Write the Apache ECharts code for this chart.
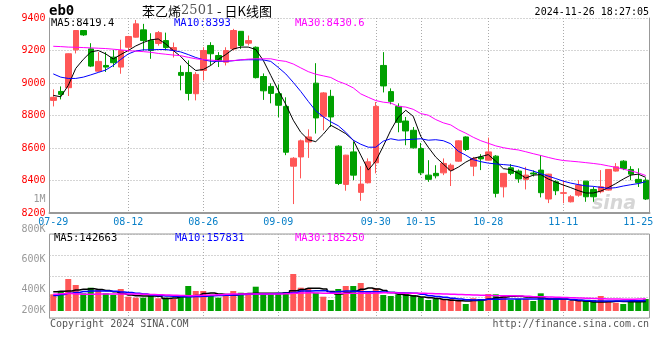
<!DOCTYPE html>
<html><head><meta charset="utf-8">
<script src="https://cdn.jsdelivr.net/npm/echarts@6/dist/echarts.min.js"></script>
<style>html,body{margin:0;padding:0;background:#fff}#c{width:660px;height:360px}</style>
</head><body><div id="c"></div>
<script>
const dates = ['07-29','07-30','07-31','08-01','08-02','08-05','08-06','08-07','08-08','08-09',
'08-12','08-13','08-14','08-15','08-16','08-19','08-20','08-21','08-22','08-23',
'08-26','08-27','08-28','08-29','08-30','09-02','09-03','09-04','09-05','09-06',
'09-09','09-10','09-11','09-12','09-13','09-18','09-19','09-20','09-23','09-24',
'09-25','09-26','09-27','09-30','10-08','10-09','10-10','10-11','10-14','10-15',
'10-16','10-17','10-18','10-21','10-22','10-23','10-24','10-25','10-28','10-29',
'10-30','10-31','11-01','11-04','11-05','11-06','11-07','11-08','11-11','11-12',
'11-13','11-14','11-15','11-18','11-19','11-20','11-21','11-22','11-25','11-26'];
const tickDates = ['07-29','08-12','08-26','09-09','09-30','10-15','10-28','11-11','11-25'];
const splitDates = ['08-12','08-26','09-09','09-30','10-15','10-28','11-11'];
const priceTicks = {min: 8200, max: 9400, step: 200};
const volTickValues = [200000, 400000, 600000, 800000, 1000000];
const volTickLabels = ['200K', '400K', '600K', '800K', '1M'];

const opens = [8893,8948,8971,9204,9323,9210,9073,9108,9159,9098,9220,9282,9327,9261,9243,9261,9200,9065,9065,8934,
9077,9231,9169,9128,9210,9318,9245,9220,9040,8979,8934,8856,8488,8545,8637,8999,8795,8918,8611,8376,
8576,8327,8386,8509,9108,8947,8856,8766,8709,8597,8433,8444,8447,8464,8519,8668,8488,8545,8525,8550,
8361,8478,8458,8407,8446,8464,8286,8392,8321,8269,8310,8396,8345,8331,8341,8458,8519,8468,8407,8402];
const closes = [8912,8930,9180,9323,9296,9104,9133,9098,9125,9200,9286,9364,9261,9200,9310,9218,9218,9047,8936,9053,
9200,9180,9139,9200,9323,9231,9261,9033,8952,8936,8863,8574,8537,8644,8668,8785,8939,8791,8382,8556,
8433,8378,8515,8856,8982,8887,8758,8705,8601,8447,8407,8429,8505,8494,8644,8591,8536,8533,8576,8321,
8444,8444,8410,8433,8440,8325,8439,8337,8325,8300,8372,8300,8300,8361,8468,8484,8474,8439,8386,8286];
const lows = [8856,8899,8920,9182,9290,9098,9068,9068,9098,9057,9190,9280,9200,9149,9230,9200,9157,8955,8893,8893,
9016,9108,9098,9108,9200,9210,9231,9028,8896,8875,8790,8556,8255,8413,8539,8689,8709,8729,8372,8337,
8402,8275,8382,8444,8942,8869,8697,8617,8597,8433,8392,8413,8433,8366,8515,8582,8427,8464,8522,8296,
8296,8433,8386,8345,8425,8296,8261,8310,8260,8265,8300,8269,8269,8321,8338,8455,8464,8402,8360,8280];
const highs = [8961,8979,9182,9326,9326,9245,9190,9190,9204,9266,9290,9388,9364,9306,9320,9310,9249,9108,9139,9067,
9220,9251,9190,9220,9333,9320,9292,9225,9059,8998,8990,8912,8544,8652,8715,9122,8944,8958,8617,8558,
8637,8488,8536,8883,9190,8967,8875,8791,8729,8631,8525,8494,8536,8505,8648,8672,8545,8562,8664,8556,
8446,8501,8468,8484,8462,8556,8441,8402,8402,8310,8402,8398,8361,8464,8470,8507,8525,8488,8475,8415];
const ma5 = [8924,8915,8985,9090,9145,9191,9200,9179,9148,9175,9200,9228,9249,9266,9271,9240,9200,9163,9114,9077,
9083,9108,9145,9175,9209,9221,9221,9206,9139,9047,8955,8869,8771,8697,8651,8639,8685,8740,8715,8688,
8648,8556,8464,8519,8611,8709,8789,8832,8795,8672,8605,8544,8501,8458,8482,8513,8537,8547,8559,8519,
8473,8467,8445,8415,8433,8436,8409,8390,8372,8356,8338,8323,8323,8335,8356,8381,8409,8433,8439,8419.4];
const ma10 = [9056,9036,9028,9028,9036,9050,9065,9080,9108,9145,9179,9197,9204,9204,9206,9206,9200,9191,9175,9157,
9143,9134,9133,9133,9137,9142,9143,9143,9142,9133,9096,9056,9004,8948,8887,8829,8792,8761,8737,8697,
8648,8623,8605,8605,8642,8657,8648,8651,8654,8657,8648,8651,8645,8626,8580,8556,8528,8516,8507,8502,
8498,8494,8485,8470,8458,8442,8427,8412,8396,8384,8375,8367,8364,8358,8352,8356,8366,8374,8381,8393];
const ma30 = [9226,9224,9221,9220,9218,9216,9214,9212,9208,9204,9199,9196,9193,9189,9182,9177,9172,9168,9158,9149,
9144,9141,9137,9135,9138,9142,9147,9149,9149,9149,9139,9133,9117,9093,9070,9054,9044,9034,9010,8993,
8970,8933,8912,8892,8882,8877,8856,8852,8838,8812,8802,8775,8755,8742,8713,8691,8666,8645,8629,8613,
8602,8594,8588,8577,8565,8554,8542,8531,8523,8519,8515,8510,8505,8499,8490,8481,8470,8459,8447,8430.6];
const volumes = [252000,302000,483000,393000,267000,352000,317000,267000,242000,332000,216000,201000,201000,231000,192000,201000,181000,216000,378000,302000,
302000,242000,201000,242000,302000,276000,267000,367000,252000,252000,267000,282000,559000,352000,343000,276000,216000,166000,332000,378000,
378000,423000,302000,343000,242000,227000,252000,257000,242000,207000,166000,181000,181000,181000,156000,106000,192000,181000,257000,252000,
231000,166000,181000,181000,151000,267000,181000,181000,181000,151000,151000,166000,166000,227000,151000,125000,106000,151000,156000,181000];
const volMa5 = [291000,297000,302000,317000,328000,337000,325000,310000,291000,264000,242000,231000,227000,227000,222000,189000,196000,216000,222000,234000,
264000,272000,257000,249000,242000,257000,264000,267000,267000,267000,267000,276000,307000,325000,343000,343000,332000,294000,257000,279000,
302000,328000,347000,332000,310000,279000,252000,237000,227000,211000,201000,189000,174000,162000,154000,151000,159000,166000,181000,201000,
211000,222000,222000,211000,207000,196000,181000,181000,181000,166000,156000,146000,136000,136000,140000,146000,143000,138000,140000,142663];
const volMa10 = [234000,249000,267000,279000,294000,302000,302000,302000,297000,287000,279000,267000,257000,242000,234000,227000,222000,219000,216000,219000,
223000,230000,234000,237000,242000,248000,254000,257000,257000,260000,264000,267000,279000,302000,302000,305000,307000,282000,294000,302000,
297000,291000,291000,291000,287000,279000,276000,272000,267000,252000,231000,219000,207000,193000,181000,171000,166000,169000,177000,178000,
181000,181000,181000,181000,181000,181000,181000,181000,181000,174000,166000,159000,151000,151000,151000,152000,152000,153000,155000,157831];
const volMa30 = [252000,261000,264000,257000,252000,254000,257000,257000,257000,257000,257000,257000,254000,249000,245000,242000,237000,233000,231000,234000,
237000,242000,246000,252000,257000,257000,257000,257000,257000,257000,257000,260000,267000,273000,275000,272000,269000,267000,267000,267000,
267000,267000,269000,272000,275000,275000,272000,269000,267000,267000,264000,260000,257000,254000,249000,245000,242000,237000,234000,231000,
231000,230000,227000,222000,217000,214000,211000,208000,205000,201000,196000,192000,189000,186000,181000,181000,178000,178000,181000,185250];

const MONO = '"DejaVu Sans Mono","Liberation Mono",monospace';
const UP = '#FF5757', DOWN = '#00A000';
const GRIDC = '#AAAAAA', FRAME = '#999999';
const L = 49.5, W = 600;

const candleData = opens.map((o, i) => [o, closes[i], lows[i], highs[i]]);
const volData = volumes.map((v, i) => ({value: v, itemStyle: {color: closes[i] >= opens[i] ? UP : DOWN}}));
const halfSlots = [];
for (let j = 0; j <= dates.length * 2; j++) halfSlots.push(j % 2 ? dates[(j - 1) / 2] : '~' + j);
const last = a => a[a.length - 1];
const dotted = {color: GRIDC, type: [1, 2], width: 1};

const chart = echarts.init(document.getElementById('c'), null, {renderer: 'canvas'});
chart.setOption({
  animation: false,
  backgroundColor: '#fff',
  grid: [
    {left: L, width: W, top: 18, height: 195},
    {left: L, width: W, top: 234, height: 84, show: true, borderColor: FRAME, borderWidth: 1, backgroundColor: 'transparent'},
    {left: L, width: W, top: 199, height: 121}
  ],
  xAxis: [
    {gridIndex: 0, type: 'category', data: dates, boundaryGap: true, position: 'bottom',
     axisLine: {show: true, lineStyle: {color: FRAME, width: 2}}, axisTick: {show: false}, axisLabel: {show: false}, splitLine: {show: false}},
    {gridIndex: 0, type: 'category', data: halfSlots, boundaryGap: false, position: 'bottom',
     axisLine: {show: false}, axisTick: {show: false},
     axisLabel: {show: true, interval: (i, v) => tickDates.includes(v), color: '#0A80C8', fontFamily: MONO, fontSize: 10, margin: 4},
     splitLine: {show: true, interval: (i, v) => splitDates.includes(v), lineStyle: dotted}},
    {gridIndex: 1, type: 'category', data: dates, boundaryGap: true, position: 'bottom',
     axisLine: {show: false}, axisTick: {show: false}, axisLabel: {show: false}, splitLine: {show: false}},
    {gridIndex: 1, type: 'category', data: halfSlots, boundaryGap: false, position: 'bottom',
     axisLine: {show: false}, axisTick: {show: false}, axisLabel: {show: false},
     splitLine: {show: true, interval: (i, v) => splitDates.includes(v), lineStyle: dotted}},
    {gridIndex: 2, type: 'category', data: dates, show: false}
  ],
  yAxis: [
    {gridIndex: 0, type: 'value', min: priceTicks.min, max: priceTicks.max, interval: priceTicks.step, position: 'left',
     axisLine: {show: true, lineStyle: {color: FRAME, width: 1}}, axisTick: {show: false},
     axisLabel: {color: '#FF0000', fontFamily: MONO, fontSize: 10, margin: 4, formatter: v => String(v)},
     splitLine: {show: true, lineStyle: dotted}},
    {gridIndex: 0, type: 'value', position: 'right', axisLine: {show: true, onZero: false, lineStyle: {color: FRAME, width: 1}},
     axisTick: {show: false}, axisLabel: {show: false}, splitLine: {show: false}},
    {gridIndex: 1, type: 'value', min: -105700, max: 1163000, show: false},
    {gridIndex: 1, type: 'value', min: 0, max: 4, interval: 1, position: 'right',
     axisLine: {show: false}, axisTick: {show: false}, axisLabel: {show: false}, splitLine: {show: true, lineStyle: dotted}},
    {gridIndex: 2, type: 'value', min: volTickValues[0], max: last(volTickValues), interval: volTickValues[1] - volTickValues[0], position: 'left',
     axisLine: {show: false}, axisTick: {show: false}, splitLine: {show: false},
     axisLabel: {color: '#999', fontFamily: MONO, fontSize: 10, margin: 4,
       formatter: v => {
         const k = volTickValues.indexOf(v);
         const t = k >= 0 ? volTickLabels[k] : '';
         return k === 0 ? '{low|' + t + '}' : t;
       },
       rich: {low: {padding: [0, 0, 20, 0], color: '#999', fontFamily: MONO, fontSize: 10}}}}
  ],
  series: [
    {type: 'candlestick', xAxisIndex: 0, yAxisIndex: 0, data: candleData, barWidth: 6,
     itemStyle: {color: UP, color0: DOWN, borderColor: UP, borderColor0: DOWN, borderWidth: 1}},
    {type: 'line', xAxisIndex: 0, yAxisIndex: 0, data: ma5, symbol: 'none', lineStyle: {color: '#000', width: 1}},
    {type: 'line', xAxisIndex: 0, yAxisIndex: 0, data: ma10, symbol: 'none', lineStyle: {color: '#0000FF', width: 1}},
    {type: 'line', xAxisIndex: 0, yAxisIndex: 0, data: ma30, symbol: 'none', lineStyle: {color: '#FF00FF', width: 1}},
    {type: 'bar', xAxisIndex: 2, yAxisIndex: 2, data: volData, barWidth: 6},
    {type: 'line', xAxisIndex: 2, yAxisIndex: 2, data: volMa5, step: 'middle', symbol: 'none', lineStyle: {color: '#000', width: 1.5}},
    {type: 'line', xAxisIndex: 2, yAxisIndex: 2, data: volMa10, step: 'middle', symbol: 'none', lineStyle: {color: '#0000FF', width: 1.5}},
    {type: 'line', xAxisIndex: 2, yAxisIndex: 2, data: volMa30, step: 'middle', symbol: 'none', lineStyle: {color: '#FF00FF', width: 1.5}}
  ],
  graphic: [
    {type: 'text', x: 49, y: 11, style: {text: 'eb0', font: 'bold 14px ' + MONO, fill: '#000', verticalAlign: 'middle'}},
    {type: 'text', x: 207, y: 11, style: {text: '苯乙烯{n|2501} - 日K线图', align: 'center', verticalAlign: 'middle',
      font: '13px "Noto Sans CJK SC"', fill: '#000', rich: {n: {font: '13px "DejaVu Serif"', fill: '#555'}}}},
    {type: 'text', x: 649, y: 12, style: {text: '2024-11-26 18:27:05', align: 'right', verticalAlign: 'middle', font: '10px ' + MONO, fill: '#000'}},
    {type: 'text', x: 51, y: 23, style: {text: 'MA5:' + last(ma5), verticalAlign: 'middle', font: '10.5px ' + MONO, fill: '#000'}},
    {type: 'text', x: 174, y: 23, style: {text: 'MA10:' + last(ma10), verticalAlign: 'middle', font: '10.5px ' + MONO, fill: '#0000FF'}},
    {type: 'text', x: 295, y: 23, style: {text: 'MA30:' + last(ma30), verticalAlign: 'middle', font: '10.5px ' + MONO, fill: '#FF00FF'}},
    {type: 'text', x: 54, y: 238.5, style: {text: 'MA5:' + last(volMa5), verticalAlign: 'middle', font: '10.5px ' + MONO, fill: '#000'}},
    {type: 'text', x: 175, y: 238.5, style: {text: 'MA10:' + last(volMa10), verticalAlign: 'middle', font: '10.5px ' + MONO, fill: '#0000FF'}},
    {type: 'text', x: 295, y: 238.5, style: {text: 'MA30:' + last(volMa30), verticalAlign: 'middle', font: '10.5px ' + MONO, fill: '#FF00FF'}},
    {type: 'text', x: 50, y: 324, style: {text: 'Copyright 2024 SINA.COM', verticalAlign: 'middle', font: '10px ' + MONO, fill: '#555'}},
    {type: 'text', x: 649, y: 324, style: {text: 'http://finance.sina.com.cn', align: 'right', verticalAlign: 'middle', font: '10px ' + MONO, fill: '#555'}},
    {type: 'text', x: 614, y: 204, z: 0, style: {text: 'sina', align: 'center', verticalAlign: 'middle', font: 'italic bold 19px "DejaVu Sans"', fill: 'rgba(180,180,180,0.55)'}}
  ]
});
</script>
</body></html>
